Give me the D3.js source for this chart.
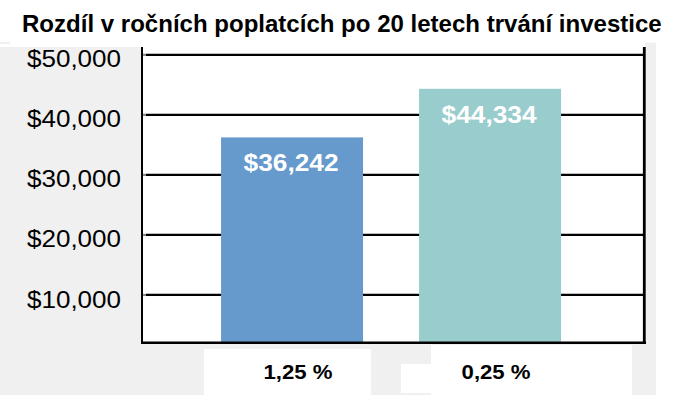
<!DOCTYPE html>
<html>
<head>
<meta charset="utf-8">
<script src="https://cdn.jsdelivr.net/npm/d3@7"></script>
<style>
  html, body { margin: 0; padding: 0; background: #ffffff; }
  svg { display: block; }
  text { font-family: "Liberation Sans", Arial, sans-serif; }
</style>
</head>
<body>
<script>
// ---- data ----
const categories = ["1,25 %", "0,25 %"];
const values = [36242, 44334];
const valueLabels = ["$36,242", "$44,334"];
const tickValues = [10000, 20000, 30000, 40000, 50000];
const tickLabels = ["$10,000", "$20,000", "$30,000", "$40,000", "$50,000"];
const title = "Rozdíl v ročních poplatcích po 20 letech trvání investice";

// ---- layout / style ----
const W = 674, H = 395;
const plot = { left: 142, right: 645, top: 47, bottom: 343 };
const gray = "#f0f0f0";
const barColors = ["#6699cc", "#99cccc"];

const svg = d3.select("body").append("svg").attr("width", W).attr("height", H);

// scale a text's font size so its natural width matches a target
function fitWidth(sel, target) {
  sel.each(function () {
    const t = d3.select(this);
    const fs = parseFloat(t.attr("font-size"));
    const w = this.getComputedTextLength();
    if (w > 0) t.attr("font-size", (fs * target / w).toFixed(2));
  });
}

// background panels
svg.append("rect").attr("x", 0).attr("y", 0).attr("width", W).attr("height", H).attr("fill", "#fff");
svg.append("rect").attr("x", 0).attr("y", 47).attr("width", plot.left).attr("height", H - 47).attr("fill", gray);
svg.append("rect").attr("x", plot.right).attr("y", 42.7).attr("width", 656 - plot.right).attr("height", H - 42.7).attr("fill", gray);
svg.append("rect").attr("x", 0).attr("y", plot.bottom).attr("width", 656).attr("height", H - plot.bottom).attr("fill", gray);
svg.append("rect").attr("x", 0).attr("y", 42).attr("width", 10).attr("height", 2).attr("fill", gray);
// white label boxes under the plot
[[204, 349, 167, 46], [401, 364, 30, 29], [431, 345, 201, 50]].forEach(b => {
  svg.append("rect").attr("x", b[0]).attr("y", b[1]).attr("width", b[2]).attr("height", b[3]).attr("fill", "#fff");
});

// scales
const y = d3.scaleLinear().domain([2000, 51300]).range([plot.bottom, plot.top]);
const x = d3.scaleBand().domain(categories).range([plot.left, plot.right])
  .paddingInner(0.283).paddingOuter(0.4116).align(0.485);

// gridlines
const grid = svg.append("g");
grid.selectAll("line.g").data(tickValues).join("line")
  .attr("x1", plot.left + 4).attr("x2", plot.right - 1)
  .attr("y1", d => y(d)).attr("y2", d => y(d))
  .attr("stroke", "#000").attr("stroke-width", 2.2);
grid.selectAll("line.t").data(tickValues).join("line")
  .attr("x1", plot.left).attr("x2", plot.left + 4)
  .attr("y1", d => y(d)).attr("y2", d => y(d))
  .attr("stroke", "#888").attr("stroke-width", 2.2);

// y axis labels via d3 axis
const yAxis = d3.axisLeft(y).tickValues(tickValues)
  .tickFormat((d, i) => tickLabels[i]).tickSize(0).tickPadding(0);
const ya = svg.append("g").attr("transform", `translate(121,0)`).call(yAxis);
ya.select(".domain").remove();
ya.selectAll("text")
  .attr("font-size", 23).attr("fill", "#000")
  .attr("font-family", "\"Liberation Sans\", Arial, sans-serif")
  .attr("dy", "0.35em")
  .attr("transform", "translate(0,4)")
  .attr("textLength", 94).attr("lengthAdjust", "spacingAndGlyphs");

// bars
svg.selectAll("rect.bar").data(values).join("rect")
  .attr("class", "bar")
  .attr("x", (d, i) => x(categories[i]))
  .attr("width", x.bandwidth())
  .attr("y", d => y(d))
  .attr("height", d => plot.bottom - y(d))
  .attr("fill", (d, i) => barColors[i]);

// value labels
svg.selectAll("text.val").data(values).join("text")
  .attr("class", "val")
  .attr("x", (d, i) => x(categories[i]) + x.bandwidth() / 2 - 1)
  .attr("y", d => y(d) + 34)
  .attr("text-anchor", "middle")
  .attr("font-size", 24).attr("font-weight", "bold").attr("fill", "#fff")
  .attr("textLength", 95).attr("lengthAdjust", "spacingAndGlyphs")
  .text((d, i) => valueLabels[i]);

// frame
svg.append("line").attr("x1", plot.left).attr("x2", plot.left).attr("y1", plot.top).attr("y2", plot.bottom + 1)
  .attr("stroke", "#000").attr("stroke-width", 2);
svg.append("line").attr("x1", plot.left - 1).attr("x2", plot.right + 1).attr("y1", plot.bottom - 0.3).attr("y2", plot.bottom - 0.3)
  .attr("stroke", "#000").attr("stroke-width", 2.4);
svg.append("line").attr("x1", plot.right - 0.7).attr("x2", plot.right - 0.7).attr("y1", plot.top).attr("y2", plot.bottom + 1)
  .attr("stroke", "#000").attr("stroke-width", 2.8);

// x labels
const xAxis = d3.axisBottom(x).tickSize(0).tickPadding(0);
const xa = svg.append("g").attr("transform", `translate(6,0)`).call(xAxis);
xa.select(".domain").remove();
xa.selectAll("text")
  .attr("y", 379).attr("dy", null)
  .attr("font-size", 21).attr("font-weight", "bold").attr("fill", "#000")
  .attr("font-family", "\"Liberation Sans\", Arial, sans-serif")
  .attr("textLength", 69).attr("lengthAdjust", "spacingAndGlyphs");

// title
const tt = svg.append("text").attr("x", 22).attr("y", 32)
  .attr("font-size", 24).attr("font-weight", "bold").attr("fill", "#000")
  .text(title);
fitWidth(tt, 640);
</script>
</body>
</html>
